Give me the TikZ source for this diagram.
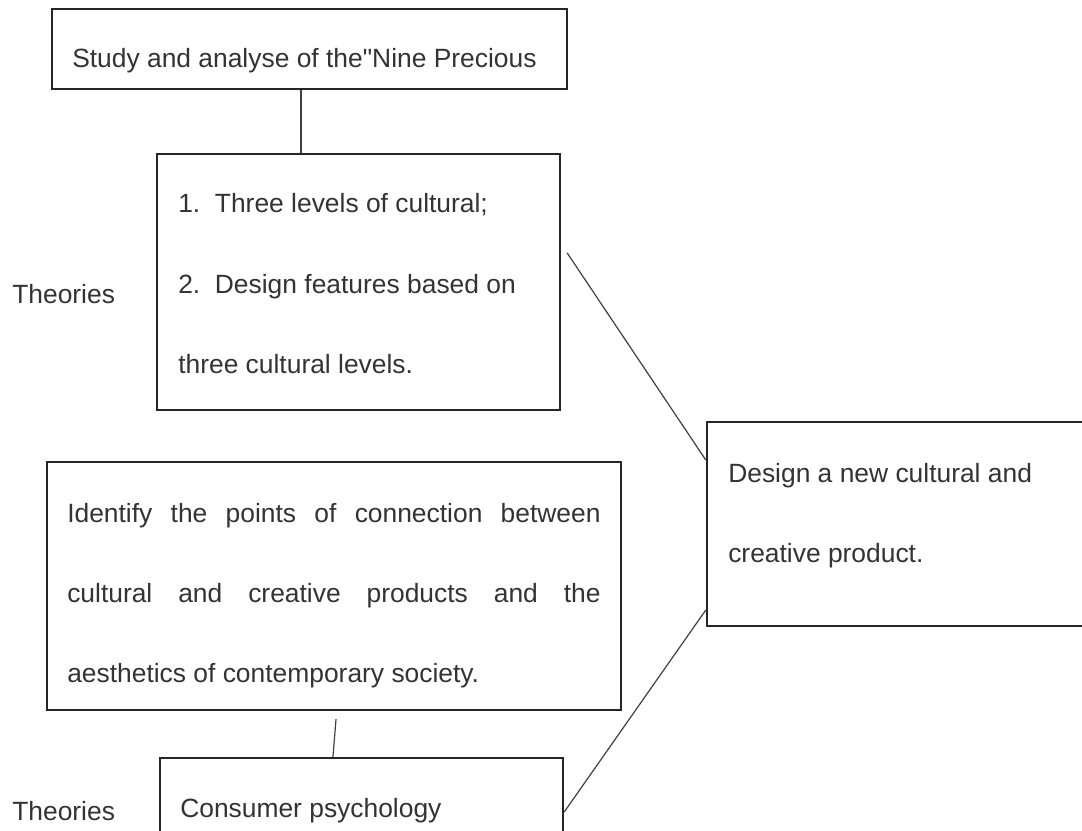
\documentclass[tikz,border=0pt]{standalone}
\usepackage{fontspec}
% a family without the TeX text mapping, so " stays a straight quote
\newfontfamily\diagfont{Liberation Sans}
\usetikzlibrary{fit}
\begin{document}
\begin{tikzpicture}[x=0.75pt,y=-0.75pt,
  box/.style={draw=black!85, line width=1.8pt, inner sep=0pt, rectangle},
  txt/.style={anchor=base west, inner sep=0pt, text=black!80,
    font=\diagfont\fontsize{19.8}{24}\selectfont},
  link/.style={draw=black!75, line width=0.9pt}]
  % page area
  \fill[white] (0,0) rectangle (1082,831);
  \useasboundingbox (0,0) rectangle (1082,831);

  % boxes
  \node[box, fit={(52,9)(567,89)}] (top) {};
  \node[box, fit={(157,154)(560,410)}] (levels) {};
  \node[box, fit={(707,422)(1095,626)}] (design) {};
  \node[box, fit={(47,462)(621,710)}] (connect) {};
  \node[box, fit={(160,758)(563,850)}] (consumer) {};

  % box texts
  \node[txt] (t0) at (72,68) {Study and analyse of the"Nine Precious};
  \node[txt] (t1) at (178,213) {1.\ \ Three levels of cultural;};
  \node[txt] (t2) at (178,293) {2.\ \ Design features based on};
  \node[txt] (t3) at (178,373) {three cultural levels.};
  \node[txt] (t4) at (728,482) {Design a new cultural and};
  \node[txt] (t5) at (728,562) {creative product.};
  \node[txt] (t6) at (67,522) {\makebox[400pt][s]{Identify the points of connection between}};
  \node[txt] (t7) at (67,602) {\makebox[400pt][s]{cultural and creative products and the}};
  \node[txt] (t8) at (67,682) {aesthetics of contemporary society.};
  \node[txt] (t9) at (180,817) {Consumer psychology};

  % side labels
  \node[txt] (th1) at (12,303) {Theories};
  \node[txt] (th2) at (12,820) {Theories};

  % connectors
  \draw[link] ([xshift=-6.4pt]top.south) -- ([xshift=-6.4pt]top.south |- levels.north);
  \draw[link] ([shift={(4.5pt,21.75pt)}]levels.east) -- ([yshift=48pt]design.west);
  \draw[link] ([shift={(1.5pt,-6pt)}]connect.south) -- ([xshift=-21.4pt]consumer.north);
  \draw[link] ([yshift=-6pt]consumer.east) -- ([yshift=-64.5pt]design.west);
\end{tikzpicture}
\end{document}
